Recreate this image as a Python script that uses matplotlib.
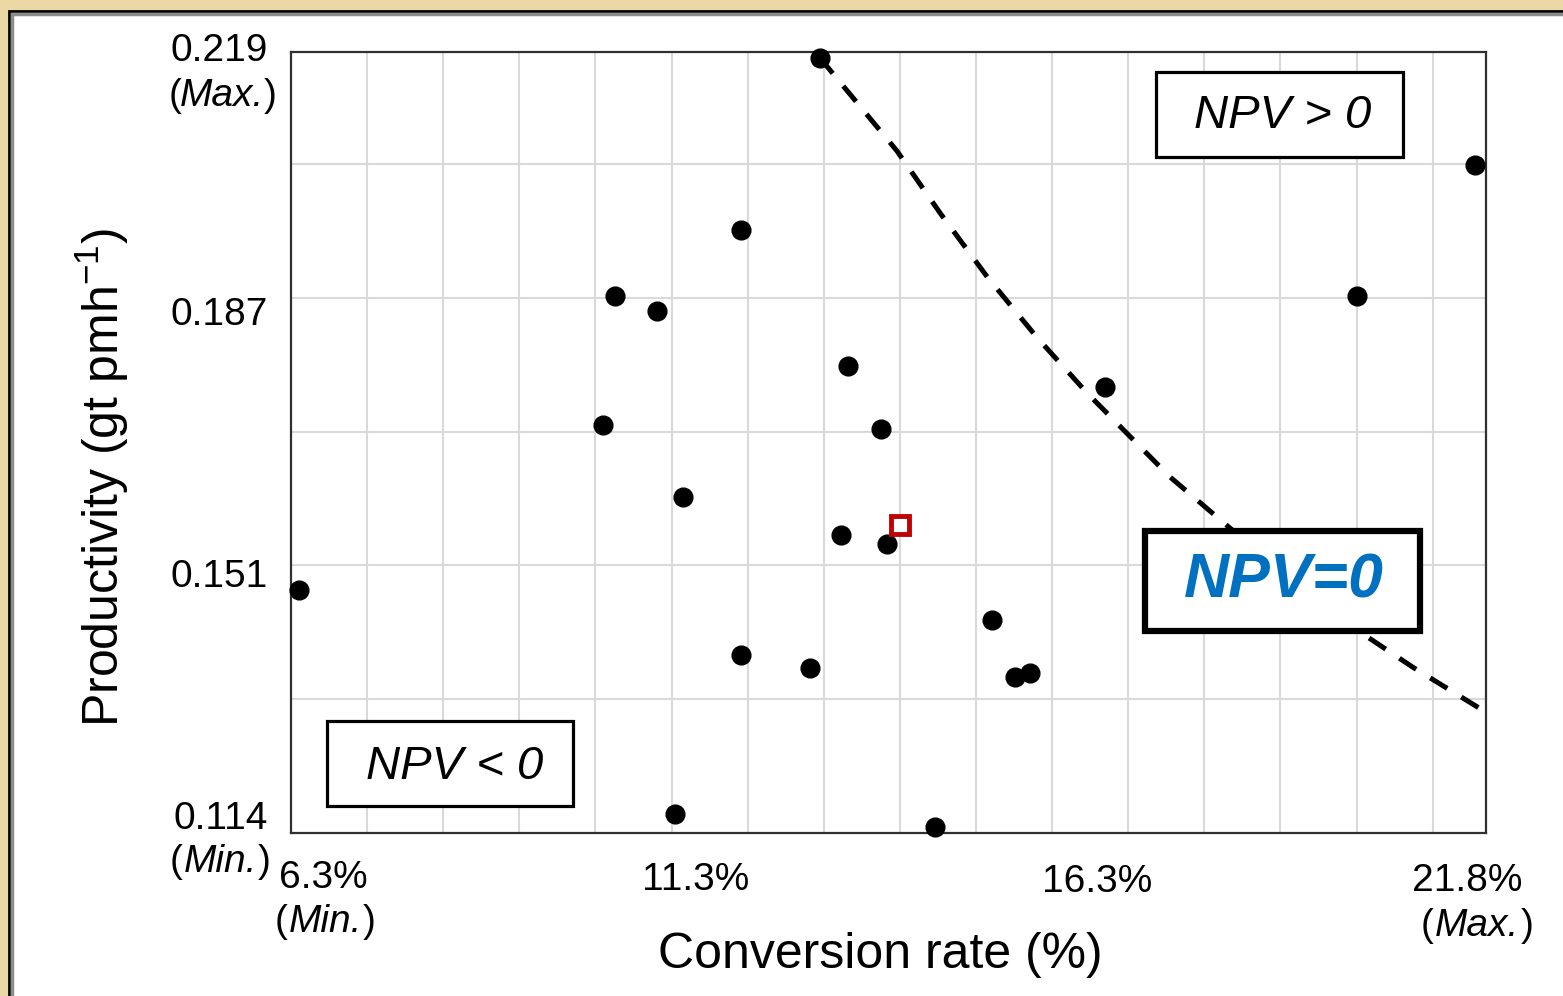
import numpy as np
import matplotlib
matplotlib.use("Agg")
import matplotlib.pyplot as plt
from matplotlib.patches import Rectangle

plt.rcParams['font.family'] = ['Liberation Sans', 'DejaVu Sans']

# scenarios: conversion rate (%) and productivity (gt pmh-1)
conv = [13.25, 21.85, 12.21, 10.56, 11.11, 20.31, 13.62, 17.00, 10.40, 14.05, 11.45,
        13.53, 14.13, 6.41, 15.51, 12.21, 13.12, 15.81, 16.01, 11.35, 14.76]
prod = [0.2183, 0.2039, 0.1952, 0.1862, 0.1842, 0.1862, 0.1768, 0.1740, 0.1689, 0.1683, 0.1592,
        0.1541, 0.1529, 0.1467, 0.1426, 0.1379, 0.1362, 0.1350, 0.1355, 0.1166, 0.1148]

# base case
base_conv = [14.30]
base_prod = [0.1554]

# NPV = 0 line
npv0_conv = [13.25, 14.26, 14.83, 15.45, 16.10, 16.76, 17.85, 18.64, 20.44, 21.04, 21.96]
npv0_prod = [0.2183, 0.2058, 0.1974, 0.1888, 0.1807, 0.1732, 0.1619, 0.1550, 0.1404, 0.1363, 0.1305]

y_labels = ["0.219", "0.187", "0.151", "0.114"]
x_labels = ["6.3%", "11.3%", "16.3%", "21.8%"]

W, H = 1563, 996
fig = plt.figure(figsize=(W / 100, H / 100), dpi=100)
fig.patch.set_facecolor('#ebd8a4')

# white panel with border
fig.patches.append(Rectangle((9 / W, -0.01), 1.02, 1 - 11 / H + 0.01, transform=fig.transFigure,
                             facecolor='white', edgecolor='black', linewidth=2, zorder=-2))
fig.patches.append(Rectangle((12 / W, -0.01), 1.02, 1 - 14 / H + 0.01, transform=fig.transFigure,
                             facecolor='none', edgecolor='#8c8c8c', linewidth=2.5, zorder=-1))

ax = fig.add_axes([291 / W, 1 - 833 / H, 1195 / W, 781 / H])
ax.set_zorder(1)
ax.patch.set_facecolor('white')
ax.set_xlim(6.3, 22.0)
ax.set_ylim(0.114, 0.2191)
ax.set_xticks(np.arange(7.3, 21.4, 1.0))
ax.set_yticks([0.132, 0.150, 0.168, 0.186, 0.204])
ax.tick_params(length=0, labelbottom=False, labelleft=False)
ax.grid(True, color='#d9d9d9', linewidth=1.5)
ax.set_axisbelow(True)
for s in ax.spines.values():
    s.set_color('#303030')
    s.set_linewidth(1.6)

ax.plot(npv0_conv, npv0_prod, color='black', linewidth=3.6, dashes=(4.0, 3.3), zorder=2,
        clip_on=False)
ax.plot(conv, prod, 'o', color='black', markersize=13.5, zorder=3, clip_on=False)
ax.plot(base_conv, base_prod, 's', markerfacecolor='white', markeredgecolor='#c00000',
        markersize=13.5, markeredgewidth=3.5, zorder=4)


# region boxes (pixel positions of the picture)
def box(x0, y0, x1, y1, lw):
    ax.add_patch(Rectangle(((x0 - 291) / 1195, (833 - y1) / 781), (x1 - x0) / 1195, (y1 - y0) / 781,
                           transform=ax.transAxes, facecolor='white', edgecolor='black',
                           linewidth=lw, zorder=5, clip_on=False))


box(1156, 72, 1403, 157, 2.3)
box(1145, 531, 1420, 631, 4.5)
box(327, 721, 573, 806, 2.3)


def ftext(x, y, s, **kw):
    fig.text(x / W, 1 - y / H, s, zorder=6, **kw)


ftext(1283, 116, "NPV > 0", fontsize=34, style='italic', ha='center', va='center')
ftext(1284, 581, "NPV=0", fontsize=45, style='italic', fontweight='bold', color='#0070c0',
      ha='center', va='center')
ftext(455, 767, "NPV < 0", fontsize=34, style='italic', ha='center', va='center')

fs = 28


def minmax(xc, y, word, left, right):
    ftext(xc, y, word, fontsize=fs, style='italic', va='center', ha='center')
    ftext(left, y, "(", fontsize=fs, va='center', ha='center')
    ftext(right, y, ")", fontsize=fs, va='center', ha='center')


# y value labels
ftext(268, 51, y_labels[0], fontsize=fs, va='center', ha='right')
minmax(222, 96, "Max.", 175, 270)
ftext(268, 315, y_labels[1], fontsize=fs, va='center', ha='right')
ftext(268, 577, y_labels[2], fontsize=fs, va='center', ha='right')
ftext(268, 819, y_labels[3], fontsize=fs, va='center', ha='right')
minmax(220, 862, "Min.", 176, 264)

# x value labels
ftext(323, 878, x_labels[0], fontsize=fs, va='center', ha='center')
minmax(325, 922, "Min.", 281, 369)
ftext(696, 880, x_labels[1], fontsize=fs, va='center', ha='center')
ftext(1097, 882, x_labels[2], fontsize=fs, va='center', ha='center')
ftext(1467, 881, x_labels[3], fontsize=fs, va='center', ha='center')
minmax(1477, 926, "Max.", 1427, 1527)

ftext(880, 955, "Conversion rate (%)", fontsize=36, va='center', ha='center')
ftext(102, 477, r"Productivity (gt pmh$^{\mathregular{-1}}$)", fontsize=36, rotation=90,
      va='center', ha='center')

fig.savefig("out.png", dpi=100, facecolor=fig.get_facecolor())
